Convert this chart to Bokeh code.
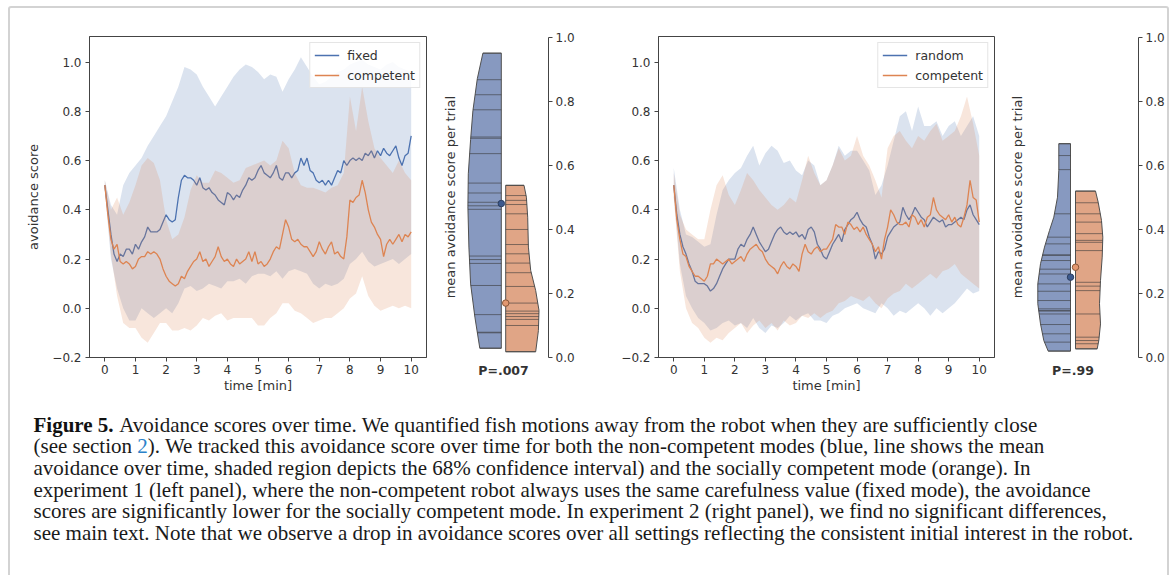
import numpy as np
from bokeh.plotting import figure
from bokeh.models import (Range1d, LinearAxis, FixedTicker, Legend, LegendItem,
                          Label, NumeralTickFormatter)
from bokeh.layouts import row, column
from bokeh.embed import file_html
from bokeh.resources import INLINE
from bokeh.core.properties import value

# ---------------- data ----------------
t_line = [round(0.1 * i, 1) for i in range(101)]   # minutes
t_band = [round(0.2 * i, 1) for i in range(51)]

left_fixed_mean = [
    0.50, 0.40, 0.30, 0.22, 0.19, 0.22, 0.21, 0.24, 0.24, 0.22,
    0.26, 0.24, 0.27, 0.29, 0.33, 0.31, 0.31, 0.31, 0.32, 0.35,
    0.38, 0.36, 0.35, 0.36, 0.45, 0.52, 0.54, 0.53, 0.53, 0.52,
    0.50, 0.53, 0.49, 0.48, 0.49, 0.47, 0.46, 0.44, 0.43, 0.42,
    0.47, 0.46, 0.44, 0.46, 0.45, 0.48, 0.50, 0.53, 0.52, 0.53,
    0.56, 0.58, 0.55, 0.54, 0.53, 0.55, 0.58, 0.53, 0.52, 0.55,
    0.55, 0.53, 0.55, 0.56, 0.61, 0.58, 0.61, 0.56, 0.55, 0.52,
    0.51, 0.52, 0.50, 0.52, 0.50, 0.53, 0.56, 0.55, 0.60, 0.58,
    0.60, 0.61, 0.60, 0.61, 0.60, 0.63, 0.62, 0.64, 0.61, 0.64,
    0.62, 0.65, 0.63, 0.62, 0.64, 0.66, 0.61, 0.58, 0.62, 0.63,
    0.70]
left_comp_mean = [
    0.50, 0.38, 0.28, 0.24, 0.26, 0.19, 0.18, 0.19, 0.18, 0.16,
    0.17, 0.20, 0.21, 0.21, 0.23, 0.22, 0.23, 0.22, 0.20, 0.16,
    0.13, 0.11, 0.10, 0.09, 0.10, 0.13, 0.12, 0.15, 0.17, 0.19,
    0.20, 0.23, 0.19, 0.20, 0.17, 0.19, 0.21, 0.25, 0.21, 0.19,
    0.20, 0.18, 0.17, 0.20, 0.18, 0.19, 0.20, 0.23, 0.19, 0.23,
    0.18, 0.19, 0.17, 0.18, 0.20, 0.23, 0.25, 0.24, 0.30, 0.36,
    0.33, 0.28, 0.27, 0.28, 0.26, 0.25, 0.25, 0.23, 0.21, 0.23,
    0.27, 0.24, 0.22, 0.25, 0.27, 0.22, 0.23, 0.21, 0.20, 0.29,
    0.44, 0.43, 0.45, 0.46, 0.52, 0.47, 0.40, 0.35, 0.33, 0.30,
    0.28, 0.21, 0.26, 0.28, 0.26, 0.28, 0.30, 0.27, 0.30, 0.29,
    0.31]
left_fixed_hi = [
    0.52, 0.42, 0.38, 0.50, 0.55, 0.58, 0.61, 0.66, 0.70, 0.74,
    0.78, 0.84, 0.90, 0.98, 0.97, 0.95, 0.90, 0.86, 0.82, 0.86,
    0.90, 0.94, 0.97, 0.99, 0.98, 0.96, 0.93, 0.95, 0.94, 0.88,
    0.93, 0.97, 1.02, 0.98, 0.94, 0.91, 0.92, 0.94, 0.96, 0.97,
    0.99, 1.00, 1.01, 0.99, 0.98, 0.97, 0.99, 1.00, 0.98, 0.97,
    0.96]
left_fixed_lo = [
    0.48, 0.20, 0.08, 0.00, -0.05, -0.05, 0.00, -0.02, -0.04, -0.02,
    0.00, -0.02, 0.02, 0.08, 0.09, 0.07, 0.08, 0.10, 0.09, 0.08,
    0.11, 0.11, 0.12, 0.10, 0.13, 0.14, 0.14, 0.13, 0.15, 0.12,
    0.15, 0.16, 0.15, 0.14, 0.10, 0.08, 0.10, 0.09, 0.10, 0.12,
    0.18, 0.20, 0.23, 0.19, 0.17, 0.18, 0.19, 0.20, 0.18, 0.20,
    0.22]
left_comp_hi = [
    0.52, 0.40, 0.45, 0.38, 0.43, 0.50, 0.58, 0.61, 0.59, 0.52,
    0.36, 0.28, 0.30, 0.37, 0.48, 0.54, 0.51, 0.51, 0.56, 0.55,
    0.53, 0.51, 0.52, 0.57, 0.58, 0.59, 0.60, 0.58, 0.60, 0.68,
    0.65, 0.55, 0.50, 0.49, 0.49, 0.48, 0.47, 0.49, 0.50, 0.55,
    0.86, 0.72, 0.90, 0.76, 0.65, 0.61, 0.58, 0.55, 0.60, 0.55,
    0.52]
left_comp_lo = [
    0.48, 0.22, 0.05, -0.06, -0.08, -0.08, -0.12, -0.14, -0.10, -0.06,
    -0.06, -0.09, -0.09, -0.08, -0.09, -0.07, -0.04, -0.05, -0.03, -0.02,
    -0.05, -0.04, -0.04, -0.04, -0.04, -0.07, -0.07, -0.04, -0.02, 0.02,
    0.02, -0.01, -0.02, -0.04, -0.06, -0.05, -0.04, -0.04, -0.02, 0.00,
    0.04, 0.06, 0.13, 0.05, 0.01, -0.01, 0.00, 0.01, 0.00, 0.01,
    0.00]

right_rand_mean = [
    0.50, 0.38, 0.30, 0.25, 0.22, 0.18, 0.15, 0.11, 0.10, 0.10,
    0.10, 0.09, 0.07, 0.08, 0.10, 0.13, 0.16, 0.18, 0.20, 0.20,
    0.20, 0.24, 0.26, 0.25, 0.28, 0.30, 0.33, 0.30, 0.27, 0.25,
    0.23, 0.24, 0.27, 0.30, 0.32, 0.33, 0.31, 0.30, 0.31, 0.30,
    0.31, 0.29, 0.30, 0.28, 0.32, 0.33, 0.31, 0.26, 0.24, 0.21,
    0.20, 0.23, 0.26, 0.28, 0.30, 0.27, 0.32, 0.34, 0.36, 0.37,
    0.39, 0.36, 0.34, 0.33, 0.29, 0.26, 0.20, 0.23, 0.22, 0.24,
    0.29, 0.31, 0.33, 0.34, 0.35, 0.41, 0.38, 0.36, 0.38, 0.41,
    0.39, 0.37, 0.36, 0.33, 0.35, 0.37, 0.36, 0.35, 0.36, 0.33,
    0.34, 0.34, 0.35, 0.36, 0.37, 0.36, 0.40, 0.42, 0.38, 0.36,
    0.34]
right_comp_mean = [
    0.50, 0.36, 0.28, 0.22, 0.21, 0.17, 0.15, 0.13, 0.13, 0.12,
    0.11, 0.13, 0.18, 0.18, 0.20, 0.19, 0.18, 0.19, 0.20, 0.18,
    0.19, 0.20, 0.21, 0.19, 0.22, 0.24, 0.25, 0.26, 0.24, 0.23,
    0.20, 0.18, 0.17, 0.16, 0.14, 0.17, 0.19, 0.17, 0.16, 0.18,
    0.17, 0.15, 0.22, 0.26, 0.23, 0.22, 0.24, 0.25, 0.23, 0.24,
    0.24, 0.26, 0.28, 0.34, 0.33, 0.33, 0.30, 0.35, 0.34, 0.32,
    0.33, 0.31, 0.33, 0.30, 0.28, 0.26, 0.23, 0.25, 0.20, 0.28,
    0.33, 0.40, 0.38, 0.35, 0.34, 0.34, 0.35, 0.33, 0.38, 0.37,
    0.34, 0.36, 0.33, 0.37, 0.38, 0.45, 0.40, 0.38, 0.37, 0.36,
    0.38, 0.35, 0.37, 0.34, 0.33, 0.37, 0.42, 0.52, 0.45, 0.44,
    0.35]
right_rand_hi = [
    0.57, 0.40, 0.30, 0.29, 0.27, 0.25, 0.26, 0.38, 0.48, 0.52,
    0.55, 0.57, 0.62, 0.66, 0.58, 0.63, 0.66, 0.64, 0.59, 0.60,
    0.56, 0.54, 0.60, 0.58, 0.50, 0.52, 0.58, 0.66, 0.62, 0.64,
    0.64, 0.60, 0.56, 0.46, 0.50, 0.58, 0.68, 0.78, 0.80, 0.72,
    0.82, 0.74, 0.74, 0.76, 0.70, 0.74, 0.76, 0.70, 0.74, 0.78,
    0.70]
right_rand_lo = [
    0.45, 0.18, 0.05, 0.00, -0.04, -0.06, -0.09, -0.08, -0.06, -0.05,
    -0.07, -0.06, -0.08, -0.04, -0.08, -0.10, -0.07, -0.08, -0.06, -0.03,
    -0.05, -0.03, -0.02, -0.05, -0.05, -0.06, -0.03, -0.02, 0.00, 0.01,
    0.02, 0.00, -0.01, -0.02, 0.02, 0.00, -0.03, -0.01, -0.02, 0.00,
    0.02, 0.00, -0.03, 0.00, -0.02, 0.00, 0.02, 0.05, 0.08, 0.06,
    0.07]
right_comp_hi = [
    0.55, 0.38, 0.32, 0.30, 0.28, 0.28, 0.40, 0.50, 0.54, 0.46,
    0.42, 0.48, 0.55, 0.52, 0.48, 0.45, 0.42, 0.40, 0.42, 0.45,
    0.43, 0.52, 0.62, 0.55, 0.50, 0.52, 0.58, 0.65, 0.60, 0.62,
    0.70, 0.62, 0.58, 0.52, 0.45, 0.65, 0.70, 0.72, 0.68, 0.65,
    0.70, 0.68, 0.72, 0.75, 0.68, 0.70, 0.72, 0.78, 0.86, 0.75,
    0.62]
right_comp_lo = [
    0.45, 0.15, 0.00, -0.06, -0.08, -0.12, -0.14, -0.12, -0.13, -0.10,
    -0.08, -0.06, -0.10, -0.07, -0.05, -0.08, -0.06, -0.09, -0.05, -0.07,
    -0.06, -0.03, -0.04, -0.02, -0.04, -0.02, -0.01, 0.02, 0.03, 0.05,
    0.04, 0.03, 0.05, 0.02, 0.00, 0.04, 0.06, 0.07, 0.10, 0.08,
    0.10, 0.12, 0.14, 0.12, 0.15, 0.16, 0.18, 0.14, 0.12, 0.10,
    0.08]

# per-trial mean avoidance (violin sticks) and violin outlines
v1_fixed_trials = [0.95, 0.867, 0.82, 0.773, 0.688, 0.684, 0.636, 0.544, 0.513,
                   0.484, 0.473, 0.462, 0.316, 0.305, 0.293, 0.224, 0.133,
                   0.078, 0.076, 0.028]
v1_comp_trials = [0.537, 0.505, 0.49, 0.477, 0.448, 0.399, 0.352, 0.323, 0.294,
                  0.264, 0.221, 0.169, 0.144, 0.136, 0.127, 0.118, 0.099, 0.017]
v1_fixed_prof_y = [0.95, 0.87, 0.77, 0.68, 0.573, 0.47, 0.344, 0.229, 0.125, 0.028]
v1_fixed_prof_w = [0.184, 0.24, 0.284, 0.307, 0.33, 0.334, 0.324, 0.307, 0.264, 0.215]
v1_comp_prof_y = [0.537, 0.50, 0.4375, 0.344, 0.271, 0.208, 0.146, 0.083, 0.017]
v1_comp_prof_w = [0.183, 0.207, 0.22, 0.227, 0.25, 0.30, 0.333, 0.327, 0.30]
v1_marker = [0.48, 0.169]
v1_p = "P=.007"

v2_rand_trials = [0.667, 0.630, 0.586, 0.448, 0.375, 0.354, 0.32, 0.318, 0.302,
                  0.275, 0.26, 0.229, 0.206, 0.177, 0.151, 0.146, 0.144, 0.135,
                  0.102, 0.073, 0.047, 0.019]
v2_comp_trials = [0.519, 0.4825, 0.448, 0.422, 0.386, 0.365, 0.359, 0.333, 0.234,
                  0.222, 0.208, 0.135, 0.0625, 0.052, 0.042, 0.026]
v2_rand_prof_y = [0.667, 0.583, 0.5, 0.4375, 0.396, 0.344, 0.292, 0.229, 0.167,
                  0.104, 0.052, 0.019]
v2_rand_prof_w = [0.117, 0.117, 0.13, 0.167, 0.21, 0.26, 0.30, 0.327, 0.327,
                  0.30, 0.267, 0.223]
v2_comp_prof_y = [0.519, 0.484, 0.427, 0.375, 0.3125, 0.24, 0.167, 0.104, 0.052, 0.026]
v2_comp_prof_w = [0.20, 0.227, 0.26, 0.273, 0.267, 0.25, 0.24, 0.25, 0.233, 0.217]
v2_marker = [0.25, 0.281]
v2_p = "P=.99"

y_ticks_ts = [-0.2, 0.0, 0.2, 0.4, 0.6, 0.8, 1.0]
x_ticks_ts = [0, 1, 2, 3, 4, 5, 6, 7, 8, 9, 10]
y_ticks_v = [0.0, 0.2, 0.4, 0.6, 0.8, 1.0]

caption_lines = [
    "Avoidance scores over time. We quantified fish motions away from the robot when they are sufficiently close",
    "). We tracked this avoidance score over time for both the non-competent modes (blue, line shows the mean",
    "avoidance over time, shaded region depicts the 68% confidence interval) and the socially competent mode (orange). In",
    "experiment 1 (left panel), where the non-competent robot always uses the same carefulness value (fixed mode), the avoidance",
    "scores are significantly lower for the socially competent mode. In experiment 2 (right panel), we find no significant differences,",
    "see main text. Note that we observe a drop in avoidance scores over all settings reflecting the consistent initial interest in the robot.",
]

# ---------------- style ----------------
BLUE = "#4C72B0"
ORANGE = "#DD8452"
V_BLUE = "#8799C0"
V_ORANGE = "#E0A586"
AX = "#444444"
TXT = "#333333"
FONT = "DejaVu Sans"
FH = 321          # frame height (px)
TOP = 28
BOT = 42


def style_axis(ax, size="12px"):
    ax.axis_line_color = AX
    ax.major_tick_line_color = AX
    ax.minor_tick_line_color = None
    ax.major_tick_in = 0
    ax.major_tick_out = 4
    ax.major_label_text_font = FONT
    ax.major_label_text_font_size = size
    ax.major_label_text_color = TXT
    ax.axis_label_text_font = FONT
    ax.axis_label_text_font_size = "13px"
    ax.axis_label_text_color = TXT
    ax.axis_label_text_font_style = "normal"


def ts_panel(ma, loa, hia, mb, lob, hib, names, ylabel, fw, mbl, mbr):
    p = figure(frame_width=fw, frame_height=FH, x_range=Range1d(-0.5, 10.5),
               y_range=Range1d(-0.2, 1.104), output_backend="svg",
               toolbar_location=None, min_border_left=mbl, min_border_right=mbr,
               min_border_top=TOP, min_border_bottom=BOT,
               background_fill_color="white", border_fill_color="white")
    p.grid.visible = False
    p.outline_line_color = AX
    p.outline_line_width = 1
    p.varea(x=t_band, y1=loa, y2=hia, fill_color=BLUE, fill_alpha=0.2)
    la = p.line(t_line, ma, line_color=BLUE, line_width=1.3)
    p.varea(x=t_band, y1=lob, y2=hib, fill_color=ORANGE, fill_alpha=0.2)
    lb = p.line(t_line, mb, line_color=ORANGE, line_width=1.3)
    p.xaxis.ticker = FixedTicker(ticks=x_ticks_ts)
    p.yaxis.ticker = FixedTicker(ticks=y_ticks_ts)
    p.yaxis.formatter = NumeralTickFormatter(format="0.0")
    p.yaxis.major_label_overrides = {-0.2: "\u22120.2"}
    p.xaxis.axis_label = "time [min]"
    if ylabel:
        p.yaxis.axis_label = ylabel
    style_axis(p.xaxis[0])
    style_axis(p.yaxis[0])
    p.xaxis.major_label_standoff = 3
    p.xaxis.axis_label_standoff = 1
    p.yaxis.major_label_standoff = 4
    p.yaxis.axis_label_standoff = 8
    leg = Legend(items=[LegendItem(label=names[0], renderers=[la]),
                        LegendItem(label=names[1], renderers=[lb])],
                 location="top_right")
    leg.margin = 6
    leg.padding = 4
    leg.spacing = 4
    leg.glyph_width = 25
    leg.glyph_height = 16
    leg.label_height = 16
    leg.label_standoff = 8
    leg.label_text_font = FONT
    leg.label_text_font_size = "12.5px"
    leg.label_text_color = TXT
    leg.border_line_color = "#cccccc"
    leg.border_line_width = 1
    leg.background_fill_alpha = 0.85
    p.add_layout(leg)
    return p


def violin_panel(ay, aw, atr, by, bw, btr, marks, ptext, xl, xr, fw, mbr, gap, lab_x):
    p = figure(frame_width=fw, frame_height=FH, x_range=Range1d(xl, xr),
               y_range=Range1d(-0.001, 1.002), output_backend="svg",
               toolbar_location=None, x_axis_type=None, y_axis_type=None,
               min_border_left=0, min_border_right=mbr,
               min_border_top=TOP, min_border_bottom=BOT,
               background_fill_color="white", border_fill_color="white")
    p.grid.visible = False
    p.outline_line_color = None
    # left half (non-competent)
    xs = [-gap - w for w in aw] + [-gap, -gap]
    ys = list(ay) + [ay[-1], ay[0]]
    p.patch(xs, ys, fill_color=V_BLUE, line_color="#505050", line_width=1)
    ya, wa = np.array(ay[::-1]), np.array(aw[::-1])
    wi = np.interp(atr, ya, wa)
    p.segment(x0=[-gap] * len(atr), y0=atr, x1=list(-gap - wi), y1=atr,
              line_color="#3a3a3a", line_alpha=0.6, line_width=1)
    # right half (competent)
    xs = [gap + w for w in bw] + [gap, gap]
    ys = list(by) + [by[-1], by[0]]
    p.patch(xs, ys, fill_color=V_ORANGE, line_color="#505050", line_width=1)
    yb, wb = np.array(by[::-1]), np.array(bw[::-1])
    wi = np.interp(btr, yb, wb)
    p.segment(x0=[gap] * len(btr), y0=btr, x1=list(gap + wi), y1=btr,
              line_color="#3a3a3a", line_alpha=0.6, line_width=1)
    # marker points
    p.scatter(x=[-gap], y=[marks[0]], size=6.5, fill_color="#3d5a8e",
              line_color="#2c3e60", line_width=1)
    p.scatter(x=[gap], y=[marks[1]], size=6.5, fill_color="#e39870",
              line_color="#8a5636", line_width=1)
    ax = LinearAxis(ticker=FixedTicker(ticks=y_ticks_v), bounds=(0, 1),
                    formatter=NumeralTickFormatter(format="0.0"))
    style_axis(ax)
    ax.major_label_standoff = 3
    p.add_layout(ax, "right")
    bx = LinearAxis(ticker=FixedTicker(ticks=[0]), major_label_overrides={0: ptext})
    bx.axis_line_color = None
    bx.major_tick_line_color = None
    bx.minor_tick_line_color = None
    bx.major_tick_out = 0
    bx.major_tick_in = 0
    bx.major_label_standoff = 5
    bx.major_label_text_font = FONT
    bx.major_label_text_font_size = "12.5px"
    bx.major_label_text_font_style = "bold"
    bx.major_label_text_color = TXT
    p.add_layout(bx, "below")
    p.add_layout(Label(x=lab_x, y=0.5, text="mean avoidance score per trial",
                       angle=90, angle_units="deg", text_align="center",
                       text_baseline="middle", text_font=FONT,
                       text_font_size="13px", text_color=TXT))
    return p


pA = ts_panel(left_fixed_mean, left_fixed_lo, left_fixed_hi,
              left_comp_mean, left_comp_lo, left_comp_hi,
              ["fixed", "competent"], "avoidance score", 337, 79, 16)
pB = violin_panel(v1_fixed_prof_y, v1_fixed_prof_w, v1_fixed_trials,
                  v1_comp_prof_y, v1_comp_prof_w, v1_comp_trials,
                  v1_marker, v1_p, -0.61, 0.45, 106, 52, 0.022, -0.53)
pC = ts_panel(right_rand_mean, right_rand_lo, right_rand_hi,
              right_comp_mean, right_comp_lo, right_comp_hi,
              ["random", "competent"], None, 336, 58, 16)
pD = violin_panel(v2_rand_prof_y, v2_rand_prof_w, v2_rand_trials,
                  v2_comp_prof_y, v2_comp_prof_w, v2_comp_trials,
                  v2_marker, v2_p, -0.625, 0.655, 128, 22, 0.025, -0.555)

# ---------------- caption ----------------
CW, CH = 1150, 180
FS = 21
cap = figure(width=CW, height=CH, x_range=Range1d(0, CW), y_range=Range1d(CH, 0),
             output_backend="svg", toolbar_location=None, x_axis_type=None,
             y_axis_type=None, min_border=0, outline_line_color=None,
             background_fill_color="white", border_fill_color="white")
cap.grid.visible = False
X0 = 23
Y0 = 25
LH = 21.7
serif = value("Liberation Serif")
common = dict(text_font=serif, text_font_size=f"{FS}px", text_baseline="middle",
              text_align="left")
cap.text(x=[X0], y=[Y0], text=["Figure 5."], text_color="#111111",
         text_font_style="bold", **common)
bold_w = 3.833 * FS
space = 0.25 * FS
cap.text(x=[X0 + bold_w + space], y=[Y0], text=[caption_lines[0]],
         text_color="#1a1a1a", **common)
pre = "(see section"
cap.text(x=[X0], y=[Y0 + LH], text=[pre], text_color="#1a1a1a", **common)
pre_w = 4.693 * FS + space
cap.text(x=[X0 + pre_w], y=[Y0 + LH], text=["2"], text_color="#2b82c9", **common)
cap.text(x=[X0 + pre_w + 0.5 * FS], y=[Y0 + LH], text=[caption_lines[1]],
         text_color="#1a1a1a", **common)
rest = caption_lines[2:]
cap.text(x=[X0] * len(rest), y=[Y0 + LH * (i + 2) for i in range(len(rest))],
         text=rest, text_color="#1a1a1a", **common)

top = row(pA, pB, pC, pD, spacing=0)
layout = column(top, cap, spacing=0, margin=(6, 0, 0, 8),
                styles={"border": "2px solid #d3d3d3", "border-radius": "3px",
                        "background-color": "white"})

open("out.html", "w").write(file_html(layout, INLINE))
